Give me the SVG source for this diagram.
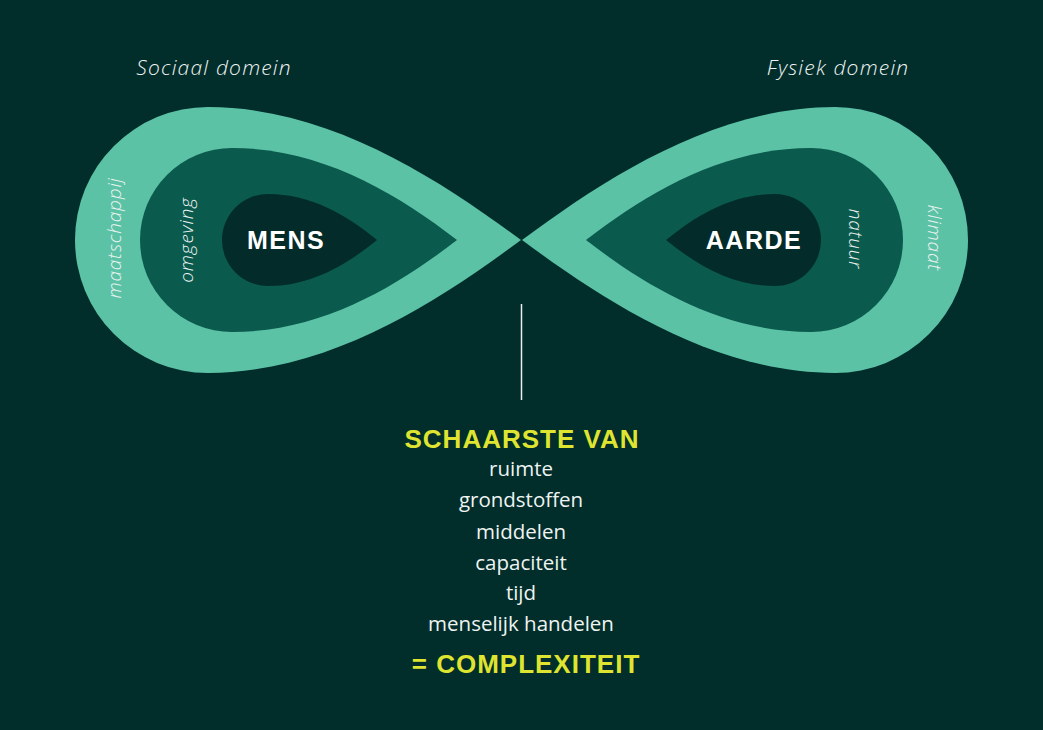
<svg xmlns="http://www.w3.org/2000/svg" width="1043" height="730" viewBox="0 0 1043 730">
<style>
.teal{fill:#5cc2a6}
.mid{fill:#0a5a4d}
.core{fill:#022b29}
.lbl{font-family:"Open Sans","Liberation Sans",sans-serif;font-style:italic;font-weight:300;fill:#eef4f1}
.rot{letter-spacing:0.8px}
.dom{letter-spacing:1.2px}
.big{font-family:"Liberation Sans","DejaVu Sans",sans-serif;font-weight:700;fill:#ffffff;letter-spacing:1.5px}
.yel{font-family:"Liberation Sans","DejaVu Sans",sans-serif;font-weight:700;fill:#dfe430;letter-spacing:1px}
.list{font-family:"Open Sans","Liberation Sans",sans-serif;font-size:20.5px;fill:#eef4f1}
</style>
<defs>
<g id="lobe">
<path class="teal" d="M521,240 C440,180 330,107 208,107 A133,133 0 0 0 208,373 C330,373 440,300 521,240 Z"/>
<path class="mid" d="M457,240 C395,192 320,148 232,148 A92,92 0 0 0 232,332 C320,332 395,288 457,240 Z"/>
<path class="core" d="M377,240 C345,214 310,194 268,194 A46,46 0 0 0 268,286 C310,286 345,266 377,240 Z"/>
</g>
</defs>
<rect width="1043" height="730" fill="#012d2b"/>
<g id="mens-lobe">
<use href="#lobe"/>
<text class="big" x="286" y="249" font-size="25" text-anchor="middle">MENS</text>
<text class="lbl rot" font-size="19" text-anchor="middle" transform="translate(193,240) rotate(-90)">omgeving</text>
<text class="lbl rot" font-size="19" text-anchor="middle" transform="translate(121,238) rotate(-90)">maatschappij</text>
</g>
<g id="aarde-lobe">
<use href="#lobe" transform="translate(1043,0) scale(-1,1)"/>
<text class="big" x="754" y="249" font-size="25" text-anchor="middle">AARDE</text>
<text class="lbl rot" font-size="19" text-anchor="middle" transform="translate(849,239) rotate(90)">natuur</text>
<text class="lbl rot" font-size="19" text-anchor="middle" transform="translate(928,238) rotate(90)">klimaat</text>
</g>
<g id="domains">
<text class="lbl dom" x="214" y="75" font-size="21" text-anchor="middle">Sociaal domein</text>
<text class="lbl dom" x="838" y="75" font-size="21" text-anchor="middle">Fysiek domein</text>
</g>
<g id="connectors">
<line x1="521.5" y1="304" x2="521.5" y2="400" stroke="#e8efec" stroke-width="1.5"/>
</g>
<g id="scarcity">
<text class="yel" x="522" y="448" font-size="26" text-anchor="middle">SCHAARSTE VAN</text>
<text class="list" x="521" y="476" text-anchor="middle">ruimte</text>
<text class="list" x="521" y="507" text-anchor="middle">grondstoffen</text>
<text class="list" x="521" y="539" text-anchor="middle">middelen</text>
<text class="list" x="521" y="570" text-anchor="middle">capaciteit</text>
<text class="list" x="521" y="600" text-anchor="middle">tijd</text>
<text class="list" x="521" y="631" text-anchor="middle">menselijk handelen</text>
<text class="yel" x="526" y="673" font-size="26" text-anchor="middle">= COMPLEXITEIT</text>
</g>
</svg>
